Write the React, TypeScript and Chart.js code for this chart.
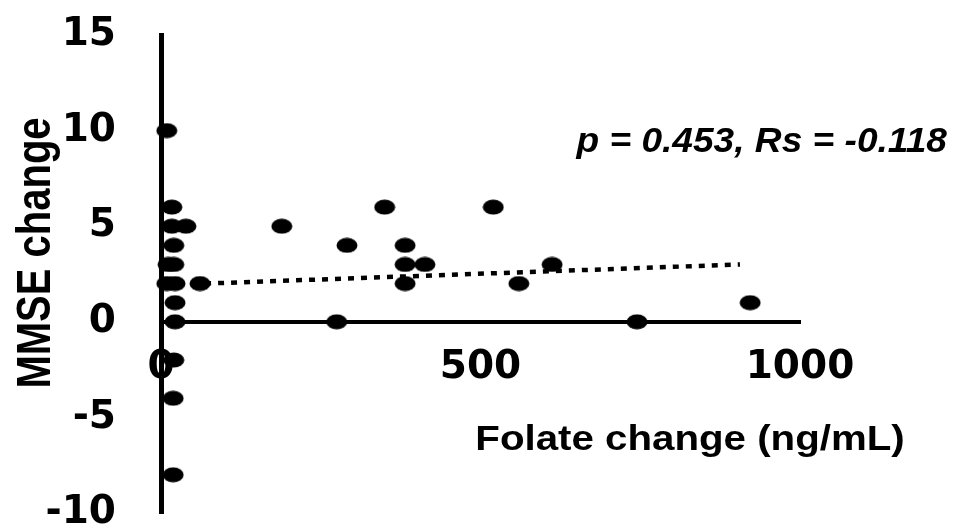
import React, { useEffect, useRef } from "react";
import { Chart, registerables } from "chart.js";

Chart.register(...registerables);

// ---- data ----
const folateChange = [9, 17, 17, 39, 20, 11, 20, 9, 22, 61, 22, 22, 20, 19, 19, 189, 291, 350, 382, 382, 413, 382, 520, 560, 612, 275, 745, 922];
const mmseChange = [10, 6, 5, 5, 4, 3, 3, 2, 2, 2, 1, 0, -2, -4, -8, 5, 4, 6, 4, 3, 3, 2, 6, 2, 3, 0, 0, 1];
const trendFolate = [69, 906];
const trendMmse = [2.0, 3.0];
const xTicks = [0, 500, 1000];
const yTicks = [15, 10, 5, 0, -5, -10];
const xTitle = "Folate change (ng/mL)";
const yTitle = "MMSE change";
const statsLabel = "p = 0.453, Rs = -0.118";

function makeEllipse(): HTMLCanvasElement {
  const c = document.createElement("canvas");
  c.width = 22;
  c.height = 16;
  const g = c.getContext("2d")!;
  g.fillStyle = "#000";
  g.beginPath();
  g.ellipse(11, 8, 10.5, 7.5, 0, 0, Math.PI * 2);
  g.fill();
  return c;
}

const textPlugin = {
  id: "extraTexts",
  afterDraw(chart: any) {
    const ctx: CanvasRenderingContext2D = chart.ctx;
    ctx.save();
    ctx.fillStyle = "#000";
    ctx.textBaseline = "alphabetic";

    // x title
    ctx.font = 'bold 35px "Liberation Sans", Arial, sans-serif';
    ctx.textAlign = "center";
    ctx.save();
    ctx.translate(690, 450);
    ctx.scale(1.15, 1);
    ctx.fillText(xTitle, 0, 0);
    ctx.restore();

    // y title
    ctx.font = 'bold 40px "Liberation Sans", Arial, sans-serif';
    ctx.save();
    ctx.translate(50, 253);
    ctx.rotate(-Math.PI / 2);
    ctx.scale(1, 1.2);
    ctx.textAlign = "center";
    ctx.fillText(yTitle, 0, 0);
    ctx.restore();

    // stats annotation
    ctx.font = 'italic bold 35px "Liberation Sans", Arial, sans-serif';
    ctx.textAlign = "right";
    ctx.save();
    ctx.translate(947, 152);
    ctx.scale(1.06, 1);
    ctx.fillText(statsLabel, 0, 0);
    ctx.restore();

    ctx.restore();
  },
};

export default function App() {
  const ref = useRef<HTMLCanvasElement>(null);

  useEffect(() => {
    if (!ref.current) return;
    const dot = makeEllipse();
    const tickFont = { family: "DejaVu Sans", weight: "bold" as const, size: 39 };
    const chart = new Chart(ref.current, {
      type: "scatter",
      data: {
        datasets: [
          {
            type: "scatter",
            data: folateChange.map((x, i) => ({ x, y: mmseChange[i] })),
            pointStyle: dot as any,
            pointRadius: 8,
            backgroundColor: "#000",
            borderColor: "#000",
            clip: false as any,
          },
          {
            type: "line",
            data: trendFolate.map((x, i) => ({ x, y: trendMmse[i] })),
            borderColor: "#000",
            borderWidth: 4.5,
            borderDash: [6, 7],
            borderCapStyle: "butt",
            pointRadius: 0,
            fill: false,
          } as any,
        ],
      },
      options: {
        responsive: false,
        animation: false,
        devicePixelRatio: 1,
        layout: { padding: { top: 35, right: 153, bottom: 17, left: 0 } },
        plugins: { legend: { display: false }, tooltip: { enabled: false } },
        scales: {
          x: {
            type: "linear",
            min: 0,
            max: 1000,
            position: { y: 0 } as any,
            afterBuildTicks: (s: any) => {
              s.ticks = xTicks.map((v) => ({ value: v }));
            },
            ticks: {
              font: tickFont,
              color: "#000",
              padding: 0,
              z: 1,
              maxRotation: 0,
              autoSkip: false,
              callback: (v: any) => String(v),
            },
            grid: { display: false, drawTicks: true, tickLength: 23 },
            border: { display: true, color: "#000", width: 4 },
          },
          y: {
            type: "linear",
            min: -10,
            max: 15,
            position: "left",
            afterBuildTicks: (s: any) => {
              s.ticks = yTicks.map((v) => ({ value: v }));
            },
            afterFit: (s: any) => {
              s.width = 161;
            },
            ticks: {
              font: { ...tickFont, lineHeight: 0.8 },
              color: "#000",
              padding: 0,
              callback: (v: any) => String(v),
            },
            grid: { display: false, drawTicks: true, tickLength: 45 },
            border: { display: true, color: "#000", width: 5 },
          },
        },
      },
      plugins: [textPlugin],
    });
    return () => chart.destroy();
  }, []);

  return (
    <div style={{ position: "fixed", left: 0, top: 0, width: 953, height: 530, background: "#fff" }}>
      <canvas ref={ref} width={953} height={530} style={{ display: "block" }} />
    </div>
  );
}
